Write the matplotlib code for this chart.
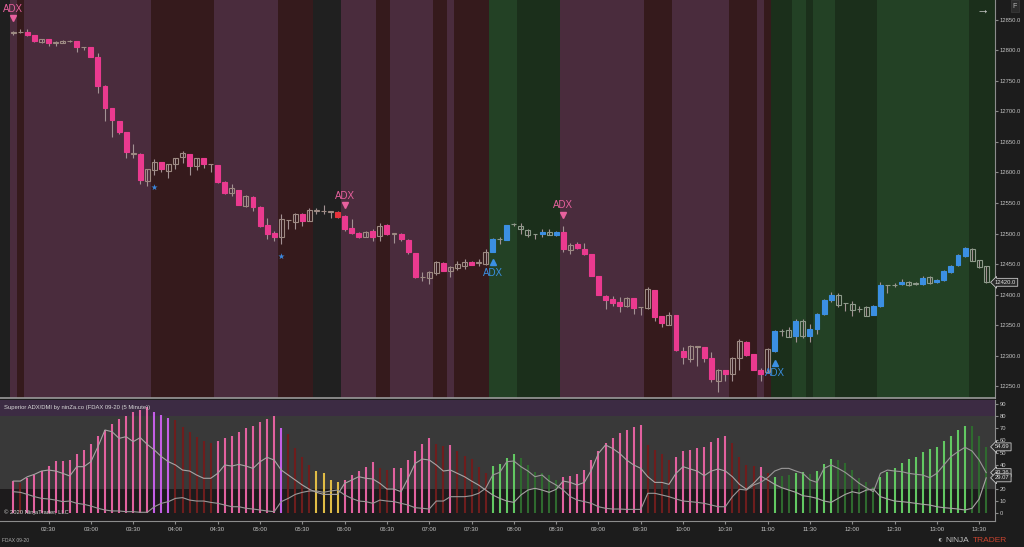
import numpy as np
import pandas as pd
import matplotlib
matplotlib.use("Agg")
import matplotlib.pyplot as plt
import matplotlib.transforms as mtrans

plt.rcParams['font.family'] = ['Liberation Sans', 'DejaVu Sans']

# FDAX 09-20, 5 minute bars starting 02:05
times = pd.date_range("2020-09-01 02:05", periods=139, freq="5min")

opens = [12828, 12830, 12830, 12825, 12813.5, 12818.5, 12813, 12813, 12815, 12815,
         12805.5, 12805.5, 12790, 12742.5, 12705.5, 12685, 12666.5, 12631, 12631, 12586,
         12604, 12617.5, 12602, 12613.5, 12625, 12629.5, 12610.5, 12623.5, 12614.5, 12611.5,
         12585, 12567, 12571.5, 12544.5, 12560.5, 12544, 12514, 12500.5, 12495, 12522,
         12519.5, 12532, 12520.5, 12538, 12537, 12536, 12535, 12528.5, 12509.5, 12501.5,
         12494.5, 12504, 12496, 12513.5, 12500, 12500, 12489.5, 12467.5, 12428, 12427,
         12436, 12451.5, 12438.5, 12443, 12447, 12454, 12452, 12449.5, 12470, 12490.5,
         12489.5, 12515, 12507, 12497, 12498.5, 12498.5, 12497, 12497, 12502.5, 12473,
         12483.5, 12474, 12466, 12430.5, 12398, 12392.5, 12387, 12380.5, 12393.5, 12379,
         12377.5, 12407.5, 12364, 12350.5, 12366.5, 12308, 12294.5, 12314.5, 12313.5, 12295.5,
         12259, 12276.5, 12270, 12295.5, 12321.5, 12302.5, 12276.5, 12272.5, 12308, 12339.5,
         12331, 12332.5, 12357, 12331.5, 12343.5, 12367.5, 12391, 12400, 12385.5, 12384.5,
         12376, 12379, 12367, 12380.5, 12415.5, 12415, 12417, 12421, 12418, 12417,
         12418.5, 12420, 12423.5, 12437, 12448, 12462.5, 12474, 12456, 12446]
highs = [12832, 12835, 12835, 12825.5, 12819, 12819, 12815, 12816.5, 12817, 12815.5,
         12806, 12806, 12795.5, 12743, 12706, 12685, 12667, 12646, 12631.5, 12605,
         12621.5, 12618, 12614.5, 12624.5, 12635, 12629.5, 12624.5, 12624.5, 12614.5, 12611.5,
         12585.5, 12580.5, 12572, 12562.5, 12561, 12544.5, 12526, 12504, 12531.5, 12522.5,
         12533, 12533, 12542.5, 12542.5, 12546, 12536.5, 12536.5, 12530, 12523, 12502,
         12503.5, 12508, 12516.5, 12515, 12500.5, 12500.5, 12490.5, 12468, 12437, 12438.5,
         12454.5, 12453, 12446.5, 12455, 12458, 12454.5, 12458, 12474, 12492, 12493.5,
         12514, 12518, 12518, 12507, 12499, 12507, 12507, 12503.5, 12512.5, 12485,
         12486, 12485, 12466, 12430.5, 12399, 12398, 12395.5, 12396, 12394, 12379.5,
         12413, 12408, 12364.5, 12371, 12366.5, 12313.5, 12317.5, 12315, 12314, 12306.5,
         12278, 12277, 12297.5, 12327, 12324, 12302.5, 12280, 12312.5, 12342, 12343.5,
         12346, 12360, 12360, 12351.5, 12369.5, 12392.5, 12404.5, 12402.5, 12386, 12389.5,
         12381.5, 12381, 12382.5, 12421, 12416, 12418.5, 12425, 12422, 12420.5, 12430,
         12430, 12425, 12440, 12448, 12466, 12477.5, 12476, 12456.5, 12446.5]
lows = [12825, 12828, 12824, 12814, 12812.5, 12807, 12806.5, 12812.5, 12813.5, 12798,
        12801, 12789.5, 12731, 12684, 12658.5, 12663.5, 12623, 12624, 12580.5, 12577.5,
        12596.5, 12601, 12591.5, 12605, 12616, 12596.5, 12604, 12607.5, 12600.5, 12582,
        12564, 12561.5, 12546, 12543, 12537, 12510, 12491.5, 12488, 12482.5, 12507,
        12507, 12512.5, 12520, 12531.5, 12531.5, 12526, 12525, 12504, 12498.5, 12492,
        12494, 12488, 12488, 12497, 12485, 12488, 12466, 12426.5, 12422.5, 12417,
        12431.5, 12438.5, 12428, 12440.5, 12441.5, 12448, 12447, 12448, 12469.5, 12482.5,
        12489, 12512.5, 12498.5, 12493.5, 12490.5, 12493.5, 12497, 12495.5, 12469, 12466,
        12474, 12465, 12430, 12399, 12376, 12381.5, 12371, 12379.5, 12368, 12366.5,
        12376, 12357, 12346, 12350, 12307.5, 12286.5, 12289, 12283.5, 12289, 12256.5,
        12241, 12259, 12259, 12275.5, 12299.5, 12276.5, 12257.5, 12271.5, 12306, 12332.5,
        12330.5, 12321.5, 12328.5, 12322.5, 12335.5, 12366.5, 12388, 12379, 12372.5, 12364,
        12372, 12364.5, 12366.5, 12379.5, 12402.5, 12412.5, 12416, 12414.5, 12415.5, 12415.5,
        12418, 12418.5, 12422, 12436, 12446.5, 12461, 12454.5, 12443.5, 12418.5]
closes = [12830, 12830.5, 12825, 12815, 12818, 12811.5, 12812.5, 12816, 12815.5, 12805.5,
          12805, 12790, 12742.5, 12706.5, 12685.5, 12666.5, 12634, 12631.5, 12587.5, 12605,
          12617.5, 12606.5, 12613.5, 12624, 12632, 12610.5, 12624, 12614.5, 12614, 12584,
          12567, 12574, 12547.5, 12561, 12544, 12511.5, 12500, 12494.5, 12523, 12522,
          12532, 12521, 12538, 12537.5, 12536.5, 12536, 12527.5, 12507, 12501.5, 12493.5,
          12503, 12495, 12512.5, 12498.5, 12500, 12491.5, 12469, 12429.5, 12428.5, 12437,
          12452.5, 12438.5, 12445.5, 12449.5, 12454, 12449, 12452.5, 12470.5, 12491.5, 12491,
          12514, 12515, 12512.5, 12505.5, 12498.5, 12502.5, 12502.5, 12503, 12474, 12481,
          12475.5, 12467, 12430.5, 12399.5, 12391.5, 12385.5, 12381.5, 12393.5, 12378, 12379,
          12409, 12362.5, 12353, 12366.5, 12309, 12297, 12315, 12314.5, 12295.5, 12262,
          12276.5, 12270, 12295.5, 12324.5, 12301, 12277, 12269, 12311, 12339.5, 12340,
          12342, 12357, 12332.5, 12343.5, 12367.5, 12391.5, 12399, 12382.5, 12385.5, 12375,
          12376.5, 12365, 12380.5, 12415.5, 12415.5, 12415.5, 12421, 12415.5, 12418.5, 12427,
          12428, 12424, 12438, 12447, 12464.5, 12475.5, 12455, 12444.5, 12420]

# candle paint: p = pink, b = blue, h = hollow, r = red signal bar
candle_type = ("hhpphphhhp" "hpppppphph" "hphhhphphp" "phphpppphh" "hphhhhrppp"
               "hphphppphh" "hphhhphhbh" "bhhhhbhbph" "ppppppphph" "hpphpphhpp"
               "hphhppphbh" "hbhbbbbhhh" "hhbbhhbhhb" "hbbbbbhhh")

# background trend state per bar
trend = ("M" + "R" + "M" * 18 + "R" * 9 + "M" * 9 + "R" * 5 + "N" * 4 + "M" * 5 + "R" * 2
         + "M" * 6 + "R" * 2 + "M" + "R" * 5 + "G" * 4 + "D" * 6 + "M" * 12 + "R" * 4
         + "M" * 8 + "R" * 4 + "M" + "R" + "D" * 3 + "G" * 2 + "D" + "G" * 3 + "D" * 6
         + "G" * 13 + "D" * 3)

star_bars = [20, 38]
star_prices = [12576, 12463]

sig_bars = [0, 47, 68, 78, 108]
sig_dirs = ["down", "down", "up", "down", "up"]
sig_prices = [12853, 12546, 12453, 12531, 12288]

adx = [26.4, 24.5, 28.6, 31.4, 34.7, 39.1, 43.0, 43.0, 43.8, 48.5, 52.0, 57.0, 63.6, 68.6, 73.6,
       77.4, 80.4, 83.2, 85.1, 87.3, 83.2, 81.0, 78.8, 76.9, 71.3, 66.7, 63.1, 59.8, 57.6, 59.5,
       62.3, 63.9, 67.2, 70.0, 71.9, 75.5, 77.7, 80.2, 70.0, 65.0, 53.4, 46.6, 39.7, 34.7, 32.8,
       27.3, 25.9,
       27.3, 31.4, 34.7, 38.3, 41.9, 37.5, 35.5, 37.5, 36.9, 43.8, 51.2, 56.7, 61.7, 56.7, 55.6,
       56.2, 51.2, 47.4, 44.6, 38.3, 32.8, 39.1, 40.2, 45.7, 48.8, 45.7, 39.7, 33.6, 32.8, 31.4,
       27.3, 30.0, 30.6, 32.0, 35.5, 43.8, 51.2, 57.6, 62.3, 65.8, 68.6, 70.8, 72.7, 56.2, 52.0,
       48.5, 43.8, 46.6,
       51.2, 52.0, 53.4, 54.8, 58.4, 62.3, 63.9, 57.6, 46.6, 39.7, 39.1, 38.3, 32.8, 30.0, 30.9,
       31.4, 32.8, 34.2, 32.0, 34.7, 40.2, 44.6, 43.8, 41.0, 35.5, 28.6, 25.3, 21.8, 30.0, 34.2,
       37.5, 41.0, 44.4, 46.6, 50.1, 52.9, 54.8, 59.5, 63.9, 68.6, 72.2, 72.2, 63.9, 54.69]
hist_col = ("p" + "r" + "p" * 18 + "v" * 3 + "r" * 6 + "p" * 9 + "v" + "r" * 4 + "y" * 4
            + "p" * 5 + "r" * 2 + "p" * 6 + "r" * 2 + "p" + "r" * 5 + "g" * 4 + "d" * 6
            + "p" * 12 + "r" * 4 + "p" * 8 + "r" * 4 + "p" + "r" + "g" + "d" * 2 + "g" * 2
            + "d" + "g" * 3 + "d" * 6 + "g" * 13 + "d" * 3)

di_minus = [26.4, 26.4, 30.0, 32.0, 34.7, 35.5, 34.7, 32.8, 30.6, 38.3, 38.3, 42.4, 54.8, 68.6, 67.2,
            61.7, 63.1, 59.0, 62.3, 56.7, 52.1, 46.6, 42.4, 39.7, 35.5, 34.7, 31.4, 28.7, 28.7, 32.8,
            39.7, 38.8, 40.2, 38.8, 36.9, 42.4, 46.0, 43.8, 35.5, 31.4, 27.3, 23.1, 19.6, 17.1, 15.4,
            15.4, 15.4,
            24.5, 27.3, 30.0, 28.7, 28.1, 24.5, 19.8, 19.8, 17.6, 28.7, 41.0, 44.6, 43.8, 39.7, 34.7,
            35.5, 32.8, 30.0, 26.4, 23.1, 19.0, 14.9, 12.1, 9.9, 8.8, 14.9, 19.0, 20.4, 19.0, 17.1,
            19.6, 26.4, 25.3, 23.1, 25.3, 35.5, 49.3, 56.2, 53.4, 49.3, 43.8, 39.7, 36.9, 30.0, 25.3,
            25.3, 23.7, 32.8,
            38.3, 36.4, 34.7, 30.9, 34.7, 36.4, 34.7, 30.0, 23.7, 19.6, 24.5, 30.6, 27.3, 23.7, 20.9,
            19.0, 17.1, 14.3, 13.5, 12.1, 9.9, 8.8, 12.1, 15.4, 17.6, 16.3, 19.0, 19.8, 13.5, 11.6,
            9.9, 9.4, 8.8, 8.0, 7.2, 6.6, 5.2, 4.4, 3.9, 3.3, 2.5, 3.9, 11.6, 29.07]
di_plus = [17.6, 17.1, 15.4, 13.5, 12.1, 11.6, 10.7, 9.4, 9.9, 8.0, 7.2, 5.8, 3.9, 2.5, 1.7,
           1.7, 1.1, 1.1, 0.6, 0.6, 5.2, 8.0, 9.4, 12.1, 12.7, 10.7, 9.9, 9.9, 8.8, 8.0,
           6.6, 5.2, 5.2, 3.9, 3.3, 2.5, 1.7, 1.1, 9.4, 12.1, 15.4, 17.1, 18.2, 18.2, 17.1,
           18.2, 19.0,
           14.9, 12.1, 9.9, 9.4, 8.0, 10.7, 9.9, 9.4, 8.0, 6.6, 4.4, 3.9, 3.3, 9.9, 9.9,
           13.5, 13.5, 13.5, 14.3, 16.3, 20.4, 31.4, 33.6, 42.4, 43.0, 38.3, 34.7, 30.0, 31.4, 26.4,
           23.1, 19.0, 13.5, 10.7, 9.4, 8.0, 5.2, 3.9, 3.3, 3.3, 3.0, 3.0, 3.0, 16.3, 16.3,
           14.9, 13.5, 11.6,
           9.9, 9.4, 8.8, 8.0, 6.6, 5.2, 5.2, 13.5, 19.6, 19.0, 23.1, 25.3, 29.2, 34.7, 36.9,
           36.9, 34.7, 32.8, 27.3, 25.3, 36.9, 39.7, 36.9, 33.6, 29.2, 24.5, 20.9, 17.6, 32.8, 35.5,
           34.7, 34.2, 32.8, 32.0, 31.4, 29.2, 32.8, 39.7, 46.6, 50.7, 54.3, 51.2, 43.8, 33.36]

band_colors = {"M": "#4a2c3d", "R": "#351a1c", "N": "#202020", "G": "#234125", "D": "#1b2f1b"}
hist_colors = {"p": "#e2619f", "v": "#c45ee6", "r": "#6e1d1d", "y": "#e0bc45",
               "g": "#62c862", "d": "#2f6a2f"}
body_face = {"p": "#ea3a8f", "b": "#3b8fe2", "h": "none", "r": "#e8333c"}
body_edge = {"p": "#ea3a8f", "b": "#3b8fe2", "h": "#9d8a82", "r": "#e8333c"}
txt_col = "#c4c4c4"

n = len(closes)
idx = np.arange(n)
xmin, xmax = -1.89, 139.25

fig = plt.figure(figsize=(10.24, 5.47), dpi=100, facecolor="#1c1c1c")
ax = fig.add_axes([0, 1 - 398 / 547, 995 / 1024, 398 / 547], facecolor="#1f1f1f")
ax2 = fig.add_axes([0, 1 - 521 / 547, 995 / 1024, 121 / 547], facecolor="#1d1b1c", sharex=ax)

# trend background bands
start = 0
for i in range(1, n + 1):
    if i == n or trend[i] != trend[start]:
        right = i - 0.5 if i < n else xmax
        ax.axvspan(start - 0.5, right, color=band_colors[trend[start]], lw=0, zorder=0)
        start = i

# candles
o = np.array(opens); c = np.array(closes)
ax.vlines(idx, lows, highs, color="#a39294", lw=0.8, zorder=2)
for t in "phbr":
    m = np.array([ch == t for ch in candle_type])
    bot = np.minimum(o, c)[m]
    hgt = np.maximum(np.abs(c - o)[m], 0.6)
    edges = body_edge[t]
    if t == "h":
        edges = ["#8d9a8a" if trend[i] in "GD" else "#9d8a82" for i in idx[m]]
    ax.bar(idx[m], hgt, bottom=bot, width=0.7, color=body_face[t],
           edgecolor=edges, linewidth=0.8, zorder=3)

ax.scatter(star_bars, star_prices, marker="*", s=22, color="#3b86dc", zorder=4, lw=0)

for b, d, p in zip(sig_bars, sig_dirs, sig_prices):
    if d == "down":
        col = "#e8619e"
        ax.plot(b, p, marker="v", ms=5, color=col, zorder=4, lw=0)
        ax.annotate("ADX", (b, p), xytext=(0, 3), textcoords="offset points",
                    ha="center", va="bottom", color=col, fontsize=7)
    else:
        col = "#3b8fe2"
        ax.plot(b, p, marker="^", ms=5, color=col, zorder=4, lw=0)
        ax.annotate("ADX", (b, p), xytext=(0, -4), textcoords="offset points",
                    ha="center", va="top", color=col, fontsize=7)

ax.set_xlim(xmin, xmax)
ax.set_ylim(12230.4, 12882.7)
ax.yaxis.tick_right()
ax.set_yticks(np.arange(12250, 12851, 50))
ax.set_yticklabels(["{:.1f}".format(v) for v in np.arange(12250, 12851, 50)])
ax.tick_params(axis="y", colors="#8a8a8a", labelcolor=txt_col, labelsize=4.2, length=2, pad=1.5)
ax.tick_params(axis="x", bottom=False, labelbottom=False)
for s in ["top", "left"]:
    ax.spines[s].set_visible(False)
ax.spines["right"].set_color("#8c8c8c")
ax.spines["bottom"].set_color("#9a9a9a")
ax.spines["bottom"].set_linewidth(1.2)

# last price box
yt = mtrans.blended_transform_factory(ax.transAxes, ax.transData)
ax.text(1.0, closes[-1], "{:.1f}".format(closes[-1]), transform=yt, ha="left", va="center",
        fontsize=4.2, color="#e0e0e0", zorder=6,
        bbox=dict(boxstyle="larrow,pad=0.25", fc="#2a2a2a", ec="#c8c8c8", lw=0.6))

# lower panel: ADX / DMI
ax2.axhspan(80, 100, color="#3c2b43", lw=0, zorder=0)
ax2.axhspan(20, 80, color="#393939", lw=0, zorder=0)
ax2.vlines(idx, 0, adx, colors=[hist_colors[ch] for ch in hist_col], lw=1.5, zorder=2)
ax2.plot(idx, di_minus, color="#a8a4a4", lw=0.8, zorder=3)
ax2.plot(idx, di_plus, color="#9a9898", lw=0.8, zorder=3)
ax2.set_ylim(-6.6, 93.4)
ax2.yaxis.tick_right()
ax2.set_yticks(np.arange(0, 91, 10))
ax2.tick_params(axis="y", colors="#8a8a8a", labelcolor=txt_col, labelsize=4.2, length=2, pad=1.5)
tick_pos = [i for i in idx if times[i].minute % 30 == 0]
ax2.set_xticks(tick_pos)
ax2.set_xticklabels([times[i].strftime("%H:%M") for i in tick_pos])
ax2.tick_params(axis="x", colors="#8a8a8a", labelcolor=txt_col, labelsize=4.3, length=2.5, pad=2)
for s in ["top", "left"]:
    ax2.spines[s].set_visible(False)
ax2.spines["right"].set_color("#8c8c8c")
ax2.spines["bottom"].set_color("#8c8c8c")
ax2.set_xlim(xmin, xmax)

yt2 = mtrans.blended_transform_factory(ax2.transAxes, ax2.transData)
for v in [adx[-1], di_plus[-1], di_minus[-1]]:
    ax2.text(1.0, v, "{:.2f}".format(v), transform=yt2, ha="left", va="center",
             fontsize=4.2, color="#e0e0e0", zorder=6,
             bbox=dict(boxstyle="larrow,pad=0.25", fc="#2a2a2a", ec="#c8c8c8", lw=0.6))

ax2.text(0.004, 0.94, "Superior ADX/DMI by ninZa.co (FDAX 09-20 (5 Minute))", transform=ax2.transAxes,
         ha="left", va="center", fontsize=4.2, color="#d8d8d8")
ax2.text(0.004, 0.07, "\u00a9 2020 NinjaTrader, LLC", transform=ax2.transAxes,
         ha="left", va="center", fontsize=4.2, color="#d8d8d8")

fig.text(2 / 1024, 1 - 541 / 547, "FDAX 09-20", fontsize=3.5, color="#b0b0b0", va="center")
fig.text(983 / 1024, 1 - 12 / 547, "\u2192", fontsize=9, color="#d0d0d0", ha="center", va="center")
fig.text(1015 / 1024, 1 - 6 / 547, "F", fontsize=5, color="#b8b8b8", ha="center", va="center",
         bbox=dict(boxstyle="square,pad=0.3", fc="#2c2c2c", ec="#3c3c3c", lw=0.5))
fig.text(940 / 1024, 1 - 540 / 547, "\u25d0", fontsize=6, color="#c8c8c8", ha="center", va="center")
fig.text(945 / 1024, 1 - 540 / 547, "NINJA", fontsize=6, color="#bdbdbd", ha="left", va="center")
fig.text(973 / 1024, 1 - 540 / 547, "TRADER", fontsize=6, color="#c8432e", ha="left", va="center")

fig.savefig("out.png", dpi=100, facecolor=fig.get_facecolor())
